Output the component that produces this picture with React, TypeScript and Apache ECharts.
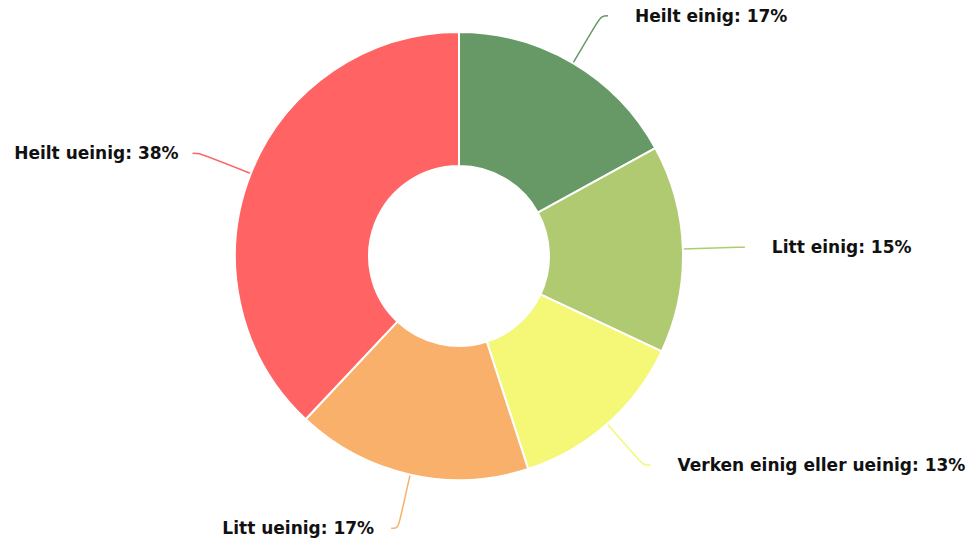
import React, { useEffect, useRef } from "react";
import * as echarts from "echarts";

const categories = [
  "Heilt einig",
  "Litt einig",
  "Verken einig eller ueinig",
  "Litt ueinig",
  "Heilt ueinig",
];
const values = [17, 15, 13, 17, 38];
const colors = ["#669966", "#b0ca71", "#f5f776", "#f9b06b", "#ff6363"];
const labelGaps = [27, 27, 27, 17, 14];

export default function App() {
  const ref = useRef<HTMLDivElement>(null);
  useEffect(() => {
    document.body.style.margin = "0";
    const chart = echarts.init(ref.current!, null, { renderer: "svg" });
    chart.setOption({
      animation: false,
      series: [
        {
          type: "pie",
          center: [459, 256],
          radius: [90, 224],
          startAngle: 90,
          clockwise: true,
          avoidLabelOverlap: false,
          itemStyle: { borderColor: "#ffffff", borderWidth: 2 },
          label: {
            formatter: "{b}: {c}%",
            fontFamily: "DejaVu Sans",
            fontSize: 17,
            fontWeight: "bold",
            color: "#111111",
          },
          labelLine: {
            show: true,
            length: 55,
            length2: 7,
            smooth: 0.4,
            lineStyle: { width: 1.5 },
          },
          data: categories.map((name, i) => ({
            name,
            value: values[i],
            itemStyle: { color: colors[i] },
            label: { distanceToLabelLine: labelGaps[i] },
          })),
        },
      ],
    });
    return () => chart.dispose();
  }, []);
  return <div ref={ref} style={{ width: 974, height: 545 }} />;
}
